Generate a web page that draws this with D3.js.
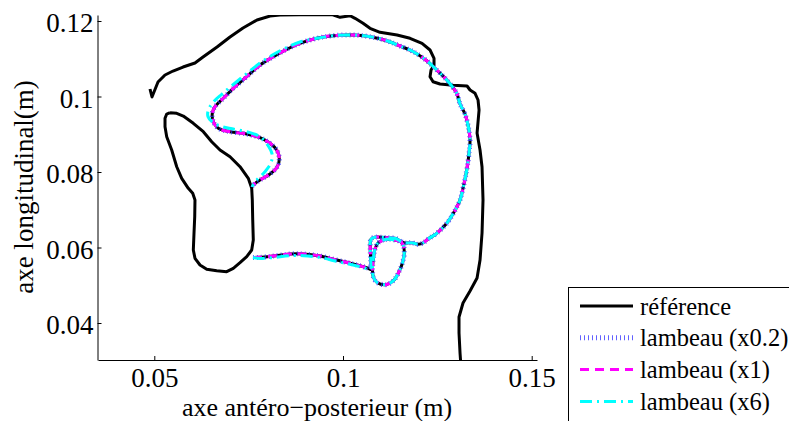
<!DOCTYPE html>
<html><head><meta charset="utf-8">
<script src="https://cdn.jsdelivr.net/npm/d3@7"></script>
<style>body{margin:0;background:#fff;overflow:hidden}svg{display:block}</style>
</head><body>
<svg id="c" width="789" height="421"></svg>
<script>
// ---------- data ----------
const xLim = [0.035082, 0.151404];
const yLim = [0.0302, 0.12159];
const xTicks = [0.05, 0.1, 0.15];
const xTickLabels = ["0.05", "0.1", "0.15"];
const yTicks = [0.04, 0.06, 0.08, 0.1, 0.12];
const yTickLabels = ["0.04", "0.06", "0.08", "0.1", "0.12"];
const xLabel = "axe antéro\u2212posterieur (m)";
const yLabel = "axe longitudinal(m)";
const seriesNames = ["référence", "lambeau (x0.2)", "lambeau (x1)", "lambeau (x6)"];

// reference: outer wall
const refOuterX = [0.04886,0.04939,0.05098,0.05284,0.05496,0.05761,0.06078,0.06291,0.06662,0.07006,0.07350,0.07721,0.08066,0.08331,0.08861,0.09709,0.09921,0.10186,0.10319,0.10531,0.10716,0.10981,0.11432,0.11776,0.12094,0.12306,0.12412,0.12412,0.12333,0.12306,0.12386,0.12571,0.12916,0.13287,0.13366,0.13499,0.13578,0.13605,0.13552,0.13631,0.13684,0.13710,0.13684,0.13631,0.13552,0.13366,0.13180,0.13074,0.13074,0.13101,0.13114];
const refOuterY = [0.10199,0.09987,0.10384,0.10570,0.10675,0.10781,0.10887,0.11046,0.11311,0.11576,0.11815,0.12026,0.12132,0.12159,0.12167,0.12167,0.12098,0.12140,0.12071,0.11939,0.11807,0.11701,0.11629,0.11542,0.11409,0.11232,0.11012,0.10834,0.10702,0.10524,0.10392,0.10331,0.10297,0.10278,0.10172,0.10085,0.09907,0.09642,0.09033,0.08583,0.08132,0.07258,0.06384,0.05669,0.05192,0.04848,0.04530,0.04159,0.03735,0.03205,0.03020];

// reference: closed blob on the left
const refBlobX = [0.05416,0.05594,0.05768,0.06034,0.06299,0.06521,0.06741,0.07006,0.07271,0.07491,0.07581,0.07597,0.07608,0.07623,0.07581,0.07449,0.07271,0.07093,0.06918,0.06654,0.06389,0.06211,0.06078,0.06034,0.06052,0.06071,0.06078,0.06018,0.05901,0.05726,0.05594,0.05461,0.05329,0.05284,0.05284,0.05329,0.05416];
const refBlobY = [0.09571,0.09555,0.09483,0.09290,0.09067,0.08803,0.08583,0.08405,0.08140,0.07833,0.07568,0.07258,0.06728,0.06199,0.05934,0.05756,0.05597,0.05449,0.05359,0.05385,0.05423,0.05536,0.05714,0.05934,0.06376,0.06816,0.07258,0.07436,0.07568,0.07833,0.08140,0.08583,0.08935,0.09200,0.09422,0.09536,0.09571];

// reference: tongue contour (lambeau x0.2 and x1 coincide with it)
const tongueX = [0.07615,0.07801,0.08153,0.08596,0.08948,0.09391,0.09833,0.10273,0.10671,0.10729,0.10734,0.10723,0.10742,0.10848,0.11158,0.11432,0.11582,0.11625,0.11582,0.11493,0.11352,0.11158,0.10910,0.10804,0.10782,0.10804,0.10848,0.10936,0.11158,0.11466,0.11643,0.11821,0.11996,0.12129,0.12253,0.12484,0.12749,0.12924,0.13101,0.13189,0.13279,0.13348,0.13366,0.13321,0.13233,0.13101,0.13013,0.12749,0.12484,0.12219,0.11864,0.11511,0.11158,0.10716,0.10273,0.09743,0.09303,0.08861,0.08508,0.08153,0.07801,0.07449,0.07093,0.06829,0.06609,0.06537,0.06564,0.06696,0.07006,0.07449,0.07801,0.08066,0.08243,0.08312,0.08259,0.08066,0.07801,0.07623,0.07597];
const tongueY = [0.05735,0.05740,0.05775,0.05828,0.05828,0.05775,0.05669,0.05563,0.05449,0.05417,0.05669,0.05934,0.06217,0.06270,0.06260,0.06225,0.06093,0.05881,0.05616,0.05377,0.05139,0.05020,0.05068,0.05219,0.05457,0.05695,0.05960,0.06127,0.06217,0.06180,0.06119,0.06127,0.06085,0.06127,0.06225,0.06376,0.06641,0.06906,0.07258,0.07611,0.08053,0.08583,0.08848,0.09200,0.09536,0.09801,0.10085,0.10437,0.10702,0.10948,0.11187,0.11338,0.11478,0.11584,0.11629,0.11611,0.11542,0.11409,0.11250,0.11054,0.10834,0.10524,0.10217,0.09952,0.09730,0.09555,0.09332,0.09158,0.09067,0.09007,0.08909,0.08760,0.08583,0.08363,0.08140,0.07947,0.07788,0.07656,0.07603];

// lambeau (x6)
const cyanX = [0.07615,0.07801,0.08153,0.08596,0.08948,0.09391,0.09833,0.10273,0.10671,0.10729,0.10734,0.10723,0.10742,0.10848,0.11158,0.11432,0.11582,0.11625,0.11582,0.11493,0.11352,0.11158,0.10910,0.10804,0.10782,0.10804,0.10848,0.10936,0.11158,0.11466,0.11643,0.11821,0.11996,0.12129,0.12253,0.12484,0.12749,0.12924,0.13101,0.13189,0.13279,0.13348,0.13366,0.13321,0.13233,0.13101,0.13013,0.12749,0.12484,0.12219,0.11864,0.11511,0.11158,0.10716,0.10273,0.09743,0.09303,0.08861,0.08508,0.08153,0.07801,0.07449,0.07093,0.06794,0.06564,0.06431,0.06423,0.06556,0.06794,0.07059,0.07449,0.07801,0.08021,0.08127,0.08085,0.07933,0.07713,0.07608,0.07597];
const cyanY = [0.05735,0.05709,0.05735,0.05783,0.05783,0.05735,0.05634,0.05536,0.05430,0.05417,0.05669,0.05934,0.06217,0.06270,0.06260,0.06225,0.06093,0.05881,0.05616,0.05377,0.05139,0.05020,0.05068,0.05219,0.05457,0.05695,0.05960,0.06127,0.06217,0.06180,0.06119,0.06127,0.06085,0.06127,0.06225,0.06376,0.06641,0.06906,0.07258,0.07611,0.08053,0.08583,0.08848,0.09200,0.09536,0.09801,0.10085,0.10437,0.10702,0.10948,0.11187,0.11338,0.11478,0.11584,0.11629,0.11611,0.11542,0.11444,0.11298,0.11113,0.10887,0.10609,0.10318,0.10066,0.09854,0.09642,0.09465,0.09311,0.09205,0.09144,0.09067,0.08935,0.08689,0.08450,0.08230,0.08008,0.07788,0.07642,0.07603];

// ---------- drawing ----------
const FONT = "'Liberation Serif','Times New Roman',serif";
const svg = d3.select("#c");
const P = {l: 98, r: 537, t: 15, b: 360};
const x = d3.scaleLinear().domain(xLim).range([P.l, P.r]);
const y = d3.scaleLinear().domain(yLim).range([P.b, P.t]);

svg.append("defs").append("clipPath").attr("id", "clip")
  .append("rect").attr("x", P.l).attr("y", P.t).attr("width", P.r - P.l).attr("height", P.b - P.t);

const zip = (xs, ys) => xs.map((v, i) => [v, ys[i]]);
const lineLin = d3.line().x(d => x(d[0])).y(d => y(d[1]));
const lineSmooth = d3.line().x(d => x(d[0])).y(d => y(d[1])).curve(d3.curveCatmullRom.alpha(0.5));

const g = svg.append("g").attr("clip-path", "url(#clip)");
const styles = [
  {stroke: "#000", width: 3, dash: null},
  {stroke: "#3a3aff", width: 5, dash: "1,3", opacity: 0.8},
  {stroke: "#ff00ff", width: 3, dash: "9,6"},
  {stroke: "#00ffff", width: 3, dash: "12,5,2,5"}
];
function draw(data, st, gen) {
  g.append("path").datum(data).attr("d", gen)
    .attr("fill", "none").attr("stroke", st.stroke).attr("stroke-width", st.width)
    .attr("stroke-dasharray", st.dash).attr("stroke-opacity", st.opacity || 1)
    .attr("stroke-linejoin", "round");
}
draw(zip(refOuterX, refOuterY), styles[0], lineLin);
draw(zip(refBlobX, refBlobY), styles[0], lineLin);
draw(zip(tongueX, tongueY), styles[0], lineSmooth);
draw(zip(tongueX, tongueY), styles[1], lineSmooth);
draw(zip(tongueX, tongueY), styles[2], lineSmooth);
draw(zip(cyanX, cyanY), styles[3], lineSmooth);

// axes
const xAxis = d3.axisBottom(x).tickValues(xTicks).tickFormat((d, i) => xTickLabels[i])
  .tickSizeInner(-4).tickSizeOuter(0).tickPadding(7.5);
const gx = svg.append("g").attr("transform", `translate(0,${P.b})`).call(xAxis);
gx.selectAll("text").attr("font-family", FONT).attr("font-size", 27).attr("fill", "#000");
gx.selectAll("path,line").attr("stroke", "#000");

const yAxis = d3.axisLeft(y).tickValues(yTicks).tickFormat((d, i) => yTickLabels[i])
  .tickSizeInner(-4).tickSizeOuter(0).tickPadding(4);
const gy = svg.append("g").attr("transform", `translate(${P.l - 0.5},0)`).call(yAxis);
gy.selectAll("text").attr("font-family", FONT).attr("font-size", 27).attr("fill", "#000").attr("dy", "0.4em");
gy.selectAll("path,line").attr("stroke", "#000");

// axis titles
svg.append("text").attr("x", 317).attr("y", 416).attr("text-anchor", "middle")
  .attr("font-family", FONT).attr("font-size", 26).text(xLabel);
svg.append("text").attr("transform", "translate(33,187) rotate(-90)").attr("text-anchor", "middle")
  .attr("font-family", FONT).attr("font-size", 27).text(yLabel);

// legend
const lg = svg.append("g");
lg.append("rect").attr("x", 568.5).attr("y", 287.5).attr("width", 240).attr("height", 150)
  .attr("fill", "#fff").attr("stroke", "#000").attr("stroke-width", 1);
seriesNames.forEach((name, i) => {
  const ly = 306 + i * 31.8;
  const st = styles[i];
  lg.append("line").attr("x1", 580).attr("x2", 633).attr("y1", ly).attr("y2", ly)
    .attr("stroke", st.stroke).attr("stroke-width", st.width)
    .attr("stroke-dasharray", st.dash).attr("stroke-opacity", st.opacity || 1);
  lg.append("text").attr("x", 640).attr("y", ly + 8.5).attr("font-family", FONT)
    .attr("font-size", 24.5).text(name);
});
</script>
</body></html>
